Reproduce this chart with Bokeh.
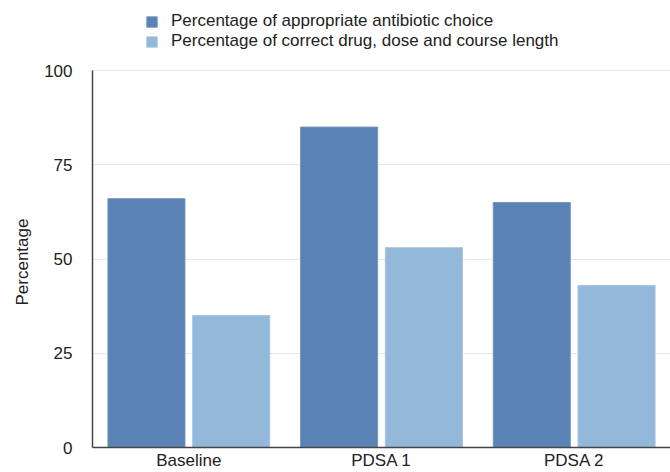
from bokeh.plotting import figure
from bokeh.models import FactorRange, Legend, LegendItem, ColumnDataSource, Range1d, Title
from bokeh.transform import dodge
from bokeh.embed import file_html
from bokeh.resources import INLINE

categories = ["Baseline", "PDSA 1", "PDSA 2"]
appropriate_choice = [66, 85, 65]
correct_drug_dose_course = [35, 53, 43]
y_ticks = [0, 25, 50, 75, 100]

src = ColumnDataSource(dict(cat=categories, a=appropriate_choice, b=correct_drug_dose_course))

FONT = "Liberation Sans"
DARK = "#5b82b5"
LIGHT = "#94b8da"

p = figure(x_range=FactorRange(*categories, start=0, end=2.995, range_padding=0),
           y_range=Range1d(0, 118.57),
           width=670, height=472, output_backend="svg", toolbar_location=None,
           min_border_left=92, min_border_right=0, min_border_top=0, min_border_bottom=25)

r1 = p.vbar(x=dodge("cat", -0.22, range=p.x_range), top="a", width=0.4, source=src,
            fill_color=DARK, line_color="#7497c4", line_width=1)
r2 = p.vbar(x=dodge("cat", 0.22, range=p.x_range), top="b", width=0.4, source=src,
            fill_color=LIGHT, line_color="#a6c5e2", line_width=1)

p.outline_line_color = None
p.xgrid.grid_line_color = None
p.ygrid.grid_line_color = "#e6e6e6"
p.ygrid.grid_line_width = 1
p.yaxis.ticker = y_ticks
p.yaxis.bounds = (0, 100)

for ax in (p.xaxis, p.yaxis):
    ax.major_tick_line_color = None
    ax.minor_tick_line_color = None
    ax.major_tick_out = 0
    ax.major_tick_in = 0
    ax.minor_tick_out = 0
    ax.axis_line_color = "#444444"
    ax.axis_line_width = 1.5
    ax.major_label_text_font = FONT
    ax.major_label_text_font_size = "17px"
    ax.major_label_text_color = "#222222"

p.yaxis.major_label_standoff = 20
p.xaxis.major_label_standoff = 3

ytitle = Title(text="Percentage", align="left", offset=142, standoff=19,
               text_font=FONT, text_font_size="17px", text_font_style="normal",
               text_color="#222222")
p.add_layout(ytitle, "left")

legend = Legend(items=[
    LegendItem(label="Percentage of appropriate antibiotic choice", renderers=[r1]),
    LegendItem(label="Percentage of correct drug, dose and course length", renderers=[r2]),
], location=(53, 396), orientation="vertical")
legend.label_text_font = FONT
legend.label_text_font_size = "17px"
legend.label_text_color = "#222222"
legend.glyph_width = 13
legend.glyph_height = 13
legend.label_height = 13
legend.label_standoff = 13
legend.spacing = 0
legend.padding = 0
legend.margin = 0
legend.border_line_color = None
legend.background_fill_alpha = 0
p.add_layout(legend)

open("out.html", "w").write(file_html(p, INLINE))
